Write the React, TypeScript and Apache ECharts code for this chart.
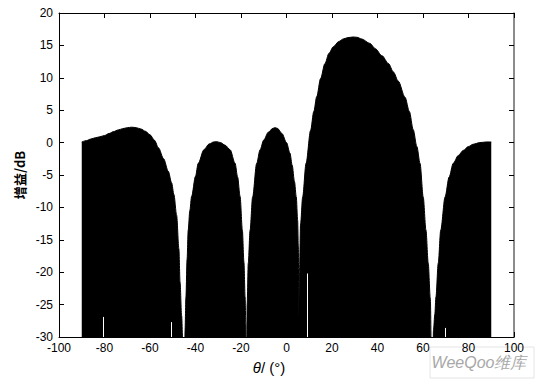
import React, { useEffect, useRef } from "react";
import * as echarts from "echarts";

// θ (degrees) and gain (dB)
const thetaDeg: number[] = [
  -90, -88, -86, -84, -82, -80, -78, -76, -74, -72, -70, -68, -66, -64, -62, -60, -58, -56.3, -54, -52,
  -50.5, -49.5, -48.3, -47.3, -46.8, -46.1, -45.5, -44.8,
  -44.6, -44.2, -43.7, -43.2, -42.5, -41.7, -40, -38.8, -36.3, -34, -32, -30.7, -29, -27, -24.8, -22.6,
  -21.5, -20.4, -19.4, -18.7, -18.2, -17.9, -17.6,
  -17.3, -16.8, -16.0, -14.9, -13.1, -11.6, -10, -8, -6, -5, -4, -2, 0, 1.5, 2.5, 3.5, 4.3, 4.9, 5.2, 5.4,
  5.7, 6.2, 7.1, 8.6, 10.6, 12, 13.3, 15, 16.9, 18.7, 20.6, 23, 25, 27, 29.3, 31, 33, 36.7, 39, 42, 44.8,
  47, 49.1, 52.1, 54, 55.7, 57.3, 58.7, 60.1, 61.3, 62.3, 63.2, 64.1,
  64.6, 65.2, 65.7, 66.7, 67.8, 69.7, 71.5, 73.3, 75.5, 77.7, 80, 82.1, 85, 88, 90,
];
const gainDb: number[] = [
  0.1, 0.3, 0.55, 0.75, 0.9, 1.1, 1.4, 1.7, 1.95, 2.15, 2.3, 2.38, 2.3, 2.1, 1.75, 1.2, 0.35, -0.8, -2.5, -4.4,
  -6.2, -8.0, -11.2, -16.4, -21.5, -26.7, -32, -45,
  -29, -23.8, -18, -13.5, -10.5, -8.3, -5.2, -3.2, -1.1, -0.2, 0.1, 0.15, 0.0, -0.4, -1.1, -3.2,
  -5.3, -8.3, -13.5, -18.5, -23.8, -28, -45,
  -25, -18.6, -13.5, -8.4, -3.2, -1.1, 0.4, 1.6, 2.2, 2.3, 2.2, 1.4, 0.0, -1.6, -3.5, -6.0, -8.4, -12, -16, -26.8,
  -20, -12.5, -8.4, -3.2, 1.9, 4.8, 7.1, 9.9, 12.2, 13.8, 14.8, 15.6, 16.0, 16.2, 16.3, 16.25, 16.0, 15.3, 14.5, 13.4, 12.2,
  10.9, 9.5, 7.0, 4.8, 2.0, -0.6, -3.2, -8.4, -13.5, -18.6, -24, -45,
  -29, -26.5, -23.8, -18.6, -13.5, -8.4, -5.3, -3.2, -2.0, -1.2, -0.6, -0.25, 0.0, 0.1, 0.1,
];

// thin white gaps between stems: [θ, top gain] from the bottom (-30)
const gapTheta: number[] = [-80.5, -50.5, 9.3, 69.7];
const gapTop: number[] = [-26.9, -27.7, -20.2, -28.6];

const xTicks = { min: -100, max: 100, step: 20 };
const yTicks = { min: -30, max: 20, step: 5 };

const FONT = "'Liberation Sans', Arial, sans-serif";

export default function App() {
  const ref = useRef<HTMLDivElement>(null);
  useEffect(() => {
    if (!ref.current) return;
    const chart = echarts.init(ref.current, undefined, { renderer: "svg" });
    const data = thetaDeg.map((t, i) => [t, gainDb[i]]);
    const gaps = gapTheta.map((t, i) => [
      { coord: [t, yTicks.min] },
      { coord: [t, gapTop[i]] },
    ]);
    const axisLabel = { color: "#000", fontFamily: FONT, fontSize: 12 };
    chart.setOption({
      animation: false,
      backgroundColor: "#fff",
      grid: { left: 59, top: 13, right: 21, bottom: 42, outerBoundsMode: "none" },
      xAxis: [
        {
          type: "value",
          min: xTicks.min,
          max: xTicks.max,
          interval: xTicks.step,
          position: "bottom",
          axisLine: { show: true, onZero: false, lineStyle: { color: "#000", width: 1 } },
          axisTick: { show: true, inside: true, length: 5, lineStyle: { color: "#000" } },
          axisLabel: { ...axisLabel, margin: 5, showMinLabel: true, showMaxLabel: true },
          splitLine: { show: false },
        },
        {
          type: "value",
          min: xTicks.min,
          max: xTicks.max,
          interval: xTicks.step,
          position: "top",
          axisLine: { show: true, onZero: false, lineStyle: { color: "#000", width: 1 } },
          axisTick: { show: true, inside: true, length: 5, lineStyle: { color: "#000" } },
          axisLabel: { show: false },
          splitLine: { show: false },
        },
      ],
      yAxis: [
        {
          type: "value",
          min: yTicks.min,
          max: yTicks.max,
          interval: yTicks.step,
          position: "left",
          axisLine: { show: true, onZero: false, lineStyle: { color: "#000", width: 1 } },
          axisTick: { show: true, inside: true, length: 5, lineStyle: { color: "#000" } },
          axisLabel: { ...axisLabel, margin: 6, showMinLabel: true, showMaxLabel: true },
          splitLine: { show: false },
        },
        {
          type: "value",
          min: yTicks.min,
          max: yTicks.max,
          interval: yTicks.step,
          position: "right",
          axisLine: { show: true, onZero: false, lineStyle: { color: "#666", width: 1.5 } },
          axisTick: { show: true, inside: true, length: 5, lineStyle: { color: "#000" } },
          axisLabel: { show: false },
          splitLine: { show: false },
        },
      ],
      series: [
        {
          type: "line",
          xAxisIndex: 0,
          yAxisIndex: 0,
          data,
          showSymbol: false,
          symbol: "none",
          clip: true,
          smooth: 0.3,
          smoothMonotone: "x",
          lineStyle: { color: "#000", width: 1 },
          areaStyle: { color: "#000", opacity: 1, origin: "start" },
          markLine: {
            silent: true,
            symbol: ["none", "none"],
            label: { show: false },
            lineStyle: { color: "#fff", width: 1, type: "solid" },
            data: gaps,
          },
          z: 2,
        },
      ],
      graphic: [
        {
          type: "text",
          x: 19,
          y: 175,
          rotation: Math.PI / 2,
          style: {
            text: "增益/dB",
            fill: "#000",
            font: "bold 13px 'Noto Sans CJK SC', sans-serif",
            align: "center",
            verticalAlign: "middle",
          },
        },
        {
          type: "text",
          x: 269,
          y: 367,
          style: {
            text: "{i|θ}/ (°)",
            fill: "#000",
            font: "15px " + FONT,
            align: "center",
            verticalAlign: "middle",
            rich: {
              i: { fontStyle: "italic", fontSize: 15, fontFamily: FONT, fill: "#000" },
            },
          },
        },
        {
          type: "rect",
          shape: { x: 430, y: 347, width: 104, height: 31 },
          style: { fill: "#fff", stroke: "#e4e4e4", lineWidth: 1 },
          z: -1,
        },
        {
          type: "text",
          x: 479,
          y: 362,
          style: {
            text: "WeeQoo维库",
            fill: "#a8a8a8",
            font: "italic 16px " + FONT,
            align: "center",
            verticalAlign: "middle",
          },
        },
      ],
    });
    return () => chart.dispose();
  }, []);
  return (
    <div
      ref={ref}
      style={{ position: "fixed", left: 0, top: 0, width: 535, height: 379, background: "#fff" }}
    />
  );
}
